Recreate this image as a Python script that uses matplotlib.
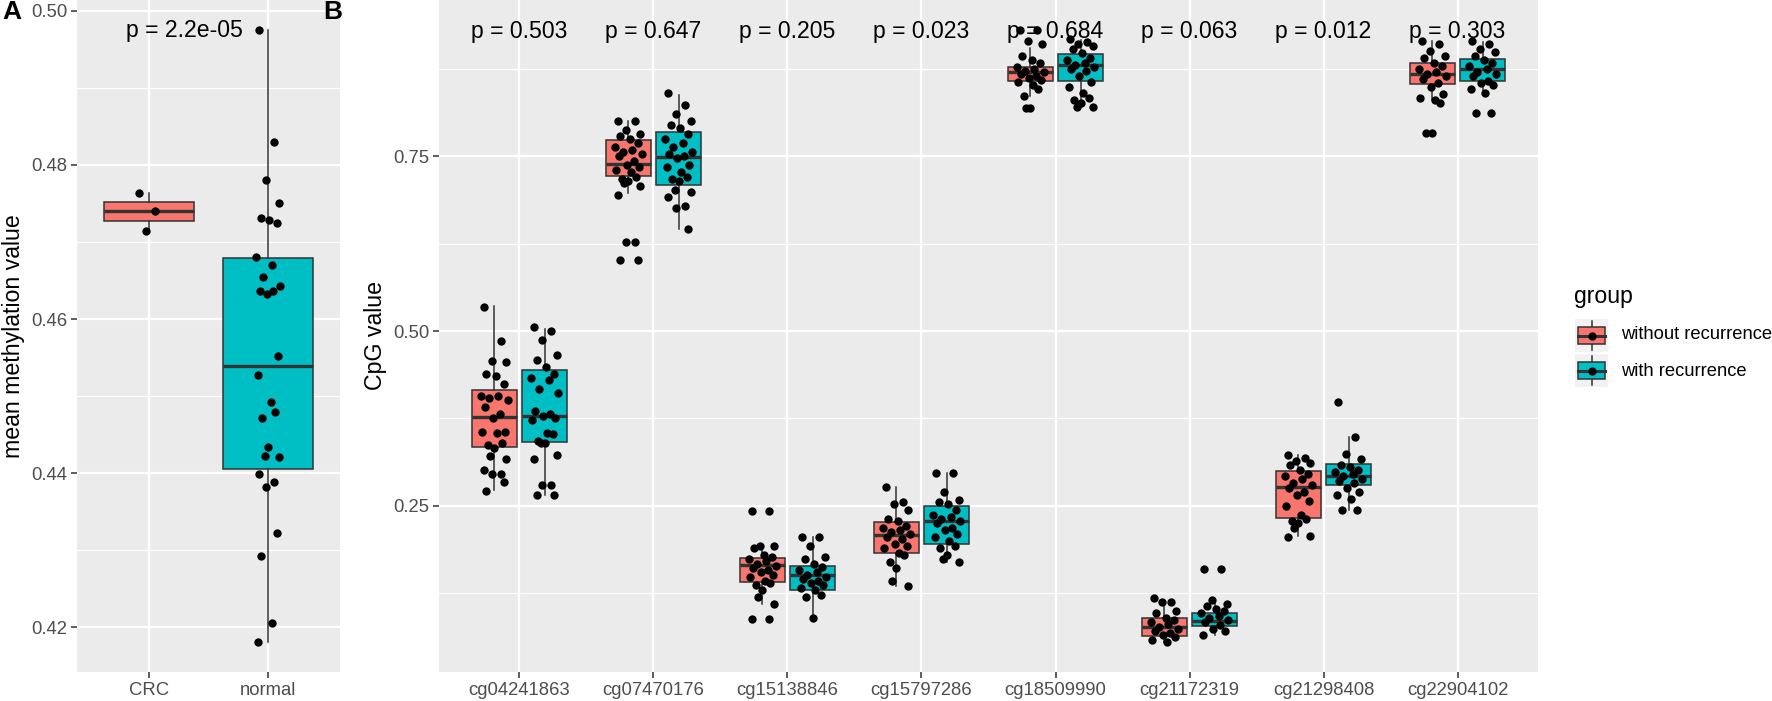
import matplotlib
matplotlib.use("Agg")
import matplotlib.pyplot as plt
from matplotlib.patches import Rectangle
from matplotlib.lines import Line2D

plt.rcParams['font.family'] = ['Liberation Sans', 'DejaVu Sans']

# ---- data, panel A ----
a_groups = ["CRC", "normal"]
a_box = [  # whislo, q1, med, q3, whishi
    [0.4714, 0.4727, 0.4740, 0.4752, 0.4764],
    [0.4181, 0.4405, 0.4539, 0.4679, 0.4975],
]
a_points = [
    [0.4764, 0.4740, 0.4714],
    [0.4975, 0.4830, 0.4780, 0.4751, 0.4731, 0.4729, 0.4724, 0.4680, 0.4670,
     0.4654, 0.4643, 0.4637, 0.4637, 0.4632, 0.4552, 0.4527, 0.4492, 0.4479,
     0.4471, 0.4434, 0.4422, 0.4421, 0.4399, 0.4389, 0.4382, 0.4323, 0.4293,
     0.4205, 0.4181],
]
a_pval = "p = 2.2e-05"

# ---- data, panel B ----
cpgs = ["cg04241863", "cg07470176", "cg15138846", "cg15797286",
        "cg18509990", "cg21172319", "cg21298408", "cg22904102"]
pvals = ["p = 0.503", "p = 0.647", "p = 0.205", "p = 0.023",
         "p = 0.684", "p = 0.063", "p = 0.012", "p = 0.303"]
groups = ["without recurrence", "with recurrence"]

# whislo, q1, med, q3, whishi
box_without = [
    [0.273, 0.334, 0.377, 0.4155, 0.536],
    [0.697, 0.722, 0.739, 0.7735, 0.801],
    [0.109, 0.141, 0.165, 0.175, 0.193],
    [0.135, 0.182, 0.2085, 0.2265, 0.277],
    [0.836, 0.858, 0.870, 0.878, 0.905],
    [0.055, 0.063, 0.077, 0.090, 0.112],
    [0.207, 0.233, 0.277, 0.300, 0.322],
    [0.830, 0.854, 0.868, 0.884, 0.915],
]
box_with = [
    [0.265, 0.341, 0.379, 0.4446, 0.503],
    [0.646, 0.709, 0.749, 0.784, 0.838],
    [0.090, 0.130, 0.151, 0.164, 0.205],
    [0.170, 0.196, 0.228, 0.250, 0.297],
    [0.825, 0.858, 0.881, 0.896, 0.916],
    [0.065, 0.078, 0.085, 0.096, 0.112],
    [0.244, 0.279, 0.292, 0.310, 0.348],
    [0.840, 0.857, 0.875, 0.889, 0.913],
]

pts_without = [
    [0.535, 0.485, 0.457, 0.455, 0.439, 0.436, 0.424, 0.407, 0.407, 0.404, 0.402,
     0.391, 0.381, 0.375, 0.356, 0.356, 0.354, 0.340, 0.337, 0.333, 0.321, 0.317,
     0.301, 0.295, 0.295, 0.284, 0.271],
    [0.801, 0.801, 0.788, 0.782, 0.779, 0.775, 0.769, 0.763, 0.759, 0.756, 0.753,
     0.750, 0.743, 0.737, 0.734, 0.731, 0.727, 0.721, 0.718, 0.715, 0.712, 0.708,
     0.695, 0.628, 0.628, 0.602, 0.602],
    [0.242, 0.242, 0.193, 0.193, 0.190, 0.180, 0.177, 0.174, 0.171, 0.167, 0.164,
     0.161, 0.158, 0.155, 0.151, 0.148, 0.142, 0.139, 0.136, 0.129, 0.120, 0.110,
     0.088, 0.088],
    [0.277, 0.256, 0.253, 0.244, 0.231, 0.228, 0.221, 0.218, 0.215, 0.212, 0.209,
     0.206, 0.202, 0.196, 0.193, 0.190, 0.183, 0.180, 0.170, 0.161, 0.143, 0.135],
    [0.930, 0.930, 0.915, 0.911, 0.894, 0.888, 0.884, 0.878, 0.875, 0.872, 0.870,
     0.868, 0.865, 0.862, 0.859, 0.856, 0.852, 0.846, 0.836, 0.819, 0.819],
    [0.118, 0.112, 0.112, 0.100, 0.096, 0.090, 0.087, 0.084, 0.081, 0.077, 0.074,
     0.071, 0.068, 0.065, 0.062, 0.058, 0.055],
    [0.322, 0.319, 0.314, 0.311, 0.308, 0.301, 0.295, 0.292, 0.289, 0.282, 0.279,
     0.276, 0.269, 0.266, 0.257, 0.250, 0.237, 0.231, 0.228, 0.225, 0.218, 0.207,
     0.205],
    [0.915, 0.910, 0.900, 0.894, 0.891, 0.884, 0.879, 0.875, 0.871, 0.868, 0.865,
     0.860, 0.855, 0.849, 0.839, 0.833, 0.830, 0.826, 0.783, 0.783],
]
pts_with = [
    [0.506, 0.500, 0.487, 0.466, 0.458, 0.449, 0.439, 0.433, 0.430, 0.417, 0.411,
     0.385, 0.381, 0.378, 0.375, 0.372, 0.354, 0.353, 0.343, 0.340, 0.340, 0.323,
     0.317, 0.279, 0.279, 0.266, 0.265],
    [0.840, 0.824, 0.811, 0.801, 0.795, 0.791, 0.782, 0.775, 0.769, 0.763, 0.756,
     0.753, 0.750, 0.747, 0.737, 0.734, 0.727, 0.721, 0.718, 0.715, 0.702, 0.699,
     0.692, 0.679, 0.676, 0.646],
    [0.205, 0.205, 0.193, 0.177, 0.174, 0.166, 0.162, 0.158, 0.155, 0.151, 0.148,
     0.145, 0.142, 0.139, 0.136, 0.132, 0.129, 0.123, 0.120, 0.090],
    [0.297, 0.297, 0.269, 0.258, 0.256, 0.253, 0.244, 0.237, 0.234, 0.231, 0.228,
     0.225, 0.218, 0.215, 0.209, 0.206, 0.199, 0.193, 0.190, 0.180, 0.174, 0.170],
    [0.918, 0.913, 0.910, 0.907, 0.904, 0.897, 0.891, 0.888, 0.884, 0.881, 0.878,
     0.875, 0.872, 0.865, 0.856, 0.849, 0.840, 0.833, 0.830, 0.826, 0.820, 0.820],
    [0.160, 0.160, 0.115, 0.109, 0.106, 0.102, 0.099, 0.096, 0.093, 0.090, 0.087,
     0.084, 0.080, 0.074, 0.071, 0.065],
    [0.399, 0.348, 0.324, 0.317, 0.308, 0.305, 0.301, 0.298, 0.295, 0.292, 0.289,
     0.285, 0.282, 0.276, 0.269, 0.266, 0.260, 0.244, 0.244],
    [0.915, 0.910, 0.904, 0.899, 0.894, 0.888, 0.884, 0.879, 0.875, 0.871, 0.868,
     0.865, 0.858, 0.855, 0.852, 0.846, 0.840, 0.812, 0.812],
]

# fixed jitter pattern (x offsets, in category units)
jitter = [-0.08, 0.05, -0.02, 0.09, -0.06, 0.01, 0.07, -0.10, 0.03, -0.04,
          0.10, -0.07, 0.04, -0.01, 0.08, -0.09, 0.02, 0.06, -0.05, 0.00,
          -0.03, 0.09, -0.08, 0.05, -0.02, 0.07, -0.06, 0.03, -0.09]

RED = "#F8766D"
TEAL = "#00BFC4"
BG = "#EBEBEB"
EDGE = "#333333"
TICKC = "#4D4D4D"
DOT = 36


def style_axes(ax):
    ax.set_facecolor(BG)
    for s in ax.spines.values():
        s.set_visible(False)
    ax.grid(True, which="major", color="white", lw=1.6)
    ax.grid(True, which="minor", axis="y", color="white", lw=0.8)
    ax.set_axisbelow(True)
    ax.tick_params(which="major", length=4, width=1.1, color=EDGE,
                   labelsize=13.3, labelcolor=TICKC, pad=3)
    ax.tick_params(which="minor", length=0)
    ax.tick_params(axis="x", which="minor", bottom=False)


def stats(row):
    return dict(whislo=row[0], q1=row[1], med=row[2], q3=row[3], whishi=row[4], fliers=[])


def draw_boxes(ax, rows, positions, color, width):
    ax.bxp([stats(r) for r in rows], positions=positions, widths=width,
           patch_artist=True, showcaps=False, showfliers=False,
           boxprops=dict(facecolor=color, edgecolor=EDGE, lw=1.1),
           whiskerprops=dict(color=EDGE, lw=1.1),
           medianprops=dict(color=EDGE, lw=2.4, solid_capstyle="butt"),
           manage_ticks=False)


def draw_points(ax, vals, center, s=DOT):
    xs = [center + jitter[i % len(jitter)] for i in range(len(vals))]
    ax.scatter(xs, vals, s=s, color="black", zorder=5, lw=0)


fig = plt.figure(figsize=(17.72, 7.01), dpi=100)

# ---- panel A ----
axA = fig.add_axes([77 / 1772, 29 / 701, 263 / 1772, 672 / 701])
style_axes(axA)
a_pos = [1, 2]
draw_boxes(axA, [a_box[0]], [1], RED, 0.75)
draw_boxes(axA, [a_box[1]], [2], TEAL, 0.75)
for i, vals in enumerate(a_points):
    draw_points(axA, vals, a_pos[i])
axA.set_xlim(0.4, 2.6)
axA.set_ylim(0.4142, 0.5014)
axA.set_xticks(a_pos)
axA.set_xticklabels(a_groups)
axA.set_yticks([0.42, 0.44, 0.46, 0.48, 0.50])
axA.set_yticks([0.43, 0.45, 0.47, 0.49], minor=True)
axA.set_ylabel("mean methylation value", fontsize=16.7, labelpad=4)
axA.text(1.3, 0.4974, a_pval, ha="center", va="center", fontsize=16.6)
fig.text(2 / 1772, 1 - 12 / 701, "A", fontsize=19, fontweight="bold", va="center")

# ---- panel B ----
axB = fig.add_axes([439 / 1772, 29 / 701, 1099 / 1772, 672 / 701])
style_axes(axB)
xs = list(range(1, len(cpgs) + 1))
dodge = 0.1875
draw_boxes(axB, box_without, [x - dodge for x in xs], RED, 0.34)
draw_boxes(axB, box_with, [x + dodge for x in xs], TEAL, 0.34)
for i, x in enumerate(xs):
    draw_points(axB, pts_without[i], x - dodge)
    draw_points(axB, pts_with[i], x + dodge)
    axB.text(x, 0.929, pvals[i], ha="center", va="center", fontsize=16.6, zorder=6)
axB.set_xlim(0.4, len(cpgs) + 0.6)
axB.set_ylim(0.0122, 0.9735)
axB.set_xticks(xs)
axB.set_xticklabels(cpgs)
axB.set_yticks([0.25, 0.50, 0.75])
axB.set_yticks([0.125, 0.375, 0.625, 0.875], minor=True)
axB.set_ylabel("CpG value", fontsize=16.7, labelpad=4)
fig.text(323 / 1772, 1 - 12 / 701, "B", fontsize=19, fontweight="bold", va="center")

# ---- legend ----
fig.text(1574 / 1772, 1 - 296 / 701, "group", fontsize=16.6, va="center")
axL = fig.add_axes([1575 / 1772, 1 - 388 / 701, 33 / 1772, 70 / 701])
axL.set_xlim(0, 1)
axL.set_ylim(0, 70)
axL.axis("off")
for k, (col, lab) in enumerate(zip([RED, TEAL], groups)):
    y0 = 70 - (k + 1) * 35 + 1
    axL.add_patch(Rectangle((0, y0), 1, 33, facecolor="#F2F2F2", edgecolor="none"))
    axL.add_line(Line2D([0.5, 0.5], [y0 + 2, y0 + 31], color=EDGE, lw=1.1))
    axL.add_patch(Rectangle((0.08, y0 + 8), 0.84, 17, facecolor=col, edgecolor=EDGE, lw=1.1, zorder=3))
    axL.add_line(Line2D([0.08, 0.92], [y0 + 16.5, y0 + 16.5], color=EDGE, lw=2.2, zorder=4))
    axL.scatter([0.5], [y0 + 16.5], s=DOT, color="black", zorder=5, lw=0)
    fig.text(1621 / 1772, 1 - (335 + 36 * k) / 701, lab, fontsize=13.2, va="center")

fig.savefig("out.png", dpi=100)
